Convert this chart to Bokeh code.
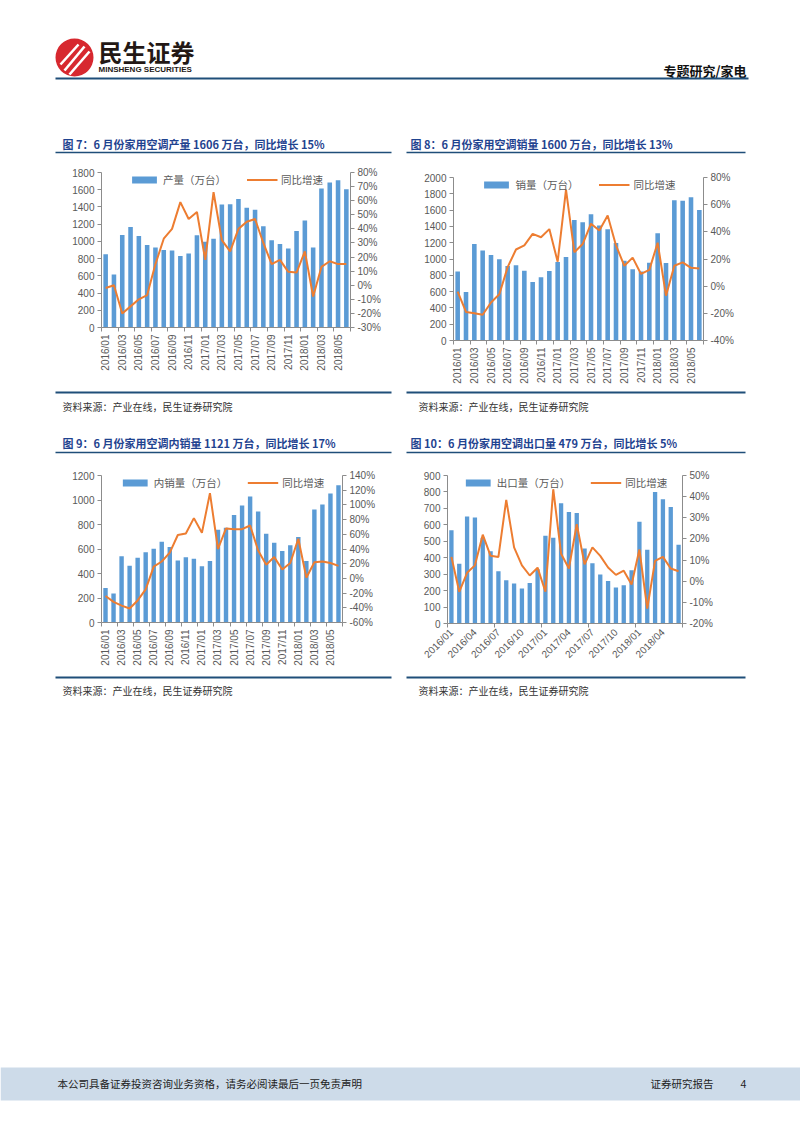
import math
from bokeh.plotting import figure
from bokeh.models import (ColumnDataSource, Range1d, LinearAxis, FixedTicker,
                          PrintfTickFormatter, Legend, LegendItem)
from bokeh.layouts import column, row
from bokeh.embed import file_html
from bokeh.resources import INLINE
from bokeh.core.properties import value

# ---------------- data ----------------
months = ["2016/01", "2016/02", "2016/03", "2016/04", "2016/05", "2016/06",
          "2016/07", "2016/08", "2016/09", "2016/10", "2016/11", "2016/12",
          "2017/01", "2017/02", "2017/03", "2017/04", "2017/05", "2017/06",
          "2017/07", "2017/08", "2017/09", "2017/10", "2017/11", "2017/12",
          "2018/01", "2018/02", "2018/03", "2018/04", "2018/05", "2018/06"]

prod_vol = [850, 615, 1075, 1168, 1062, 957, 930, 900, 895, 830, 860, 1070,
            996, 1030, 1428, 1432, 1491, 1390, 1367, 1177, 1013, 970, 918, 1120,
            1243, 930, 1614, 1684, 1710, 1606]
prod_yoy = [-2, 0, -20, -15, -10, -7, 15, 33, 40, 59, 47, 52,
            18, 66, 32, 24, 40, 45, 47, 30, 15, 18, 9.5, 9,
            24, -8, 13, 17, 15, 15]

sales_vol = [848, 596, 1184, 1105, 1050, 996, 915, 922, 857, 717, 775, 852,
             962, 1025, 1480, 1452, 1549, 1410, 1366, 1197, 980, 873, 848, 955,
             1316, 951, 1720, 1715, 1758, 1600]
sales_yoy = [-4, -19, -20, -21, -12, -6, 14, 27, 30, 38.5, 36, 42,
             18, 71, 25, 31, 46, 41, 52, 30, 15, 21, 9, 12,
             32, -7, 15, 17.5, 13.5, 13]

dom_vol = [282, 236, 541, 463, 529, 574, 602, 660, 616, 507, 532, 521,
           459, 503, 757, 773, 878, 956, 1028, 906, 724, 652, 583, 630,
           697, 503, 923, 963, 1053, 1121]
dom_yoy = [-24, -32, -37, -41, -30, -15, 16, 23, 35, 59, 61, 82,
           62, 116, 40, 68, 67, 67, 72, 38, 18.5, 29, 12, 21,
           54, 1, 22, 23, 21, 17]

exp_vol = [567, 364, 650, 644, 522, 440, 318, 263, 243, 213, 246, 330,
           534, 522, 731, 678, 672, 456, 366, 298, 259, 219, 233, 324,
           619, 449, 800, 755, 708, 479]
exp_yoy = [11.5, -5, 4, 7.5, 22, 12, 11.5, 38.5, 16, 7.5, 2.7, 6.4,
           -5, 43.5, 13, 6, 27, 8, 16, 12, 6.5, 3, 5, -1.6,
           15, -13, 9.6, 11.5, 6, 4.7]

# ---------------- style ----------------
CJK = "Noto Sans CJK SC"
LAT = "Liberation Sans"
BAR = "#5B9BD5"
LINE = "#ED7D31"
AX = "#8C8C8C"
TXT = "#595959"
NAVY = "#1F4E79"
TITLE = "#1F4390"


def deco(w, h):
    p = figure(width=w, height=h, x_range=Range1d(0, w), y_range=Range1d(h, 0),
               x_axis_type=None, y_axis_type=None, output_backend="svg",
               toolbar_location=None, min_border=0)
    p.grid.visible = False
    p.outline_line_color = None
    p.frame_align = False
    return p


def txt(p, x, y, s, size, color="#333333", font=CJK, style="normal", align="left"):
    p.text(x=[x], y=[y], text=[s], text_font=value(font), text_font_size=size,
           text_color=color, text_font_style=style, text_align=align,
           text_baseline="middle")


def chart(w, h, lb, rb, tb, bb, vols, yoy, ymax, ystep, pmin, pmax, pstep,
          lab_step, tick_step, orient, bar_label):
    n = len(months)
    src = ColumnDataSource(dict(x=list(range(n)), m=months, v=vols, g=yoy))
    p = figure(width=w, height=h, x_range=Range1d(-0.5, n - 0.5),
               y_range=Range1d(0, ymax), output_backend="svg",
               toolbar_location=None, min_border_left=lb, min_border_right=rb,
               min_border_top=tb, min_border_bottom=bb)
    p.frame_align = False
    p.extra_y_ranges = {"pct": Range1d(pmin, pmax)}
    p.grid.visible = False
    p.outline_line_color = None
    bars = p.vbar(x="x", top="v", width=0.55, source=src, fill_color=BAR,
                  line_color=None)
    ln = p.line(x="x", y="g", source=src, y_range_name="pct",
                line_color=LINE, line_width=2)

    xa = p.xaxis[0]
    ticks = list(range(0, n, lab_step))
    xa.ticker = FixedTicker(ticks=ticks,
                            minor_ticks=[k - 0.5 for k in range(0, n + 1, tick_step)])
    xa.major_label_overrides = {i: months[i] for i in ticks}
    xa.major_label_orientation = orient
    xa.major_tick_line_color = None
    xa.major_tick_out = 0
    xa.major_tick_in = 0
    xa.minor_tick_line_color = AX
    xa.minor_tick_out = 4
    xa.minor_tick_in = 0
    xa.major_label_standoff = 3

    ya = p.yaxis[0]
    ya.ticker = FixedTicker(ticks=list(range(0, ymax + 1, ystep)))

    ra = LinearAxis(y_range_name="pct",
                    ticker=FixedTicker(ticks=list(range(pmin, pmax + 1, pstep))),
                    formatter=PrintfTickFormatter(format="%d%%"))
    p.add_layout(ra, "right")

    for a in (xa, ya, ra):
        a.major_label_text_font = LAT
        a.major_label_text_font_size = "10px"
        a.major_label_text_color = TXT
        a.axis_line_color = AX
    for a in (ya, ra):
        a.major_tick_line_color = AX
        a.major_tick_out = 4
        a.major_tick_in = 0
        a.minor_tick_line_color = None
        a.major_label_standoff = 3

    leg = Legend(items=[LegendItem(label=bar_label, renderers=[bars]),
                        LegendItem(label="同比增速", renderers=[ln])],
                 orientation="horizontal", location="top_center")
    leg.background_fill_alpha = 0
    leg.border_line_color = None
    leg.padding = 0
    leg.margin = 0
    leg.spacing = 20
    leg.glyph_width = 31
    leg.glyph_height = 9
    leg.label_height = 12
    leg.label_standoff = 4
    leg.label_text_font = CJK
    leg.label_text_font_size = "10.5px"
    leg.label_text_color = TXT
    p.add_layout(leg)
    return p


# ---------------- header (page y 0..135) ----------------
header = deco(800, 135)
header.circle(x=[74], y=[57], radius=19, fill_color="#D7282F", line_color=None)
for (x0, y0, x1, y1) in [(60, 64, 78, 44), (64, 70, 84, 46), (69, 74, 89, 51)]:
    header.line(x=[x0, x1], y=[y0, y1], line_color="white", line_width=2.6)
txt(header, 98, 51, "民生证券", "24px", color="#231815", style="bold")
txt(header, 98, 69, "MINSHENG SECURITIES", "8px", color="#231815", font=LAT, style="bold")
txt(header, 746, 70, "专题研究/家电", "13px", color="#111111", style="bold", align="right")
header.line(x=[55, 748], y=[78, 78], line_color=NAVY, line_width=2)

# ---------------- titles row 1 (page y 135..160) ----------------
titles1 = deco(800, 25)
txt(titles1, 62, 8, "图 7：6 月份家用空调产量 1606 万台，同比增长 15%", "11px", color=TITLE, style="bold")
txt(titles1, 410, 8, "图 8：6 月份家用空调销量 1600 万台，同比增长 13%", "11px", color=TITLE, style="bold")
titles1.line(x=[55, 391], y=[17, 17], line_color=NAVY, line_width=1.5)
titles1.line(x=[406, 745], y=[17, 17], line_color=NAVY, line_width=1.5)

# ---------------- charts row 1 (page y 160..390) ----------------
c7 = chart(400, 230, 101, 50, 12, 63, prod_vol, prod_yoy, 1800, 200, -30, 80, 10,
           2, 2, math.pi / 2, "产量（万台）")
c8 = chart(400, 230, 53, 97, 17, 50, sales_vol, sales_yoy, 2000, 200, -40, 80, 20,
           2, 2, math.pi / 2, "销量（万台）")

# ---------------- middle strip (page y 390..460) ----------------
mid = deco(800, 70)
mid.line(x=[55, 391], y=[2, 2], line_color=NAVY, line_width=2)
mid.line(x=[406, 745], y=[2, 2], line_color=NAVY, line_width=2)
txt(mid, 62, 16, "资料来源：产业在线，民生证券研究院", "10px")
txt(mid, 418, 16, "资料来源：产业在线，民生证券研究院", "10px")
txt(mid, 62, 52, "图 9：6 月份家用空调内销量 1121 万台，同比增长 17%", "11px", color=TITLE, style="bold")
txt(mid, 410, 52, "图 10：6 月份家用空调出口量 479 万台，同比增长 5%", "11px", color=TITLE, style="bold")
mid.line(x=[55, 391], y=[62, 62], line_color=NAVY, line_width=1.5)
mid.line(x=[406, 745], y=[62, 62], line_color=NAVY, line_width=1.5)

# ---------------- charts row 2 (page y 460..675) ----------------
c9 = chart(400, 215, 101, 58, 15, 53, dom_vol, dom_yoy, 1200, 200, -60, 140, 20,
           2, 2, math.pi / 2, "内销量（万台）")
c10 = chart(400, 215, 47, 118, 15, 52, exp_vol, exp_yoy, 900, 100, -20, 50, 10,
            3, 6, math.pi / 4, "出口量（万台）")

# ---------------- bottom strip (page y 675..1132) ----------------
bottom = deco(800, 457)
bottom.line(x=[55, 391], y=[2, 2], line_color=NAVY, line_width=2)
bottom.line(x=[406, 745], y=[2, 2], line_color=NAVY, line_width=2)
txt(bottom, 62, 15, "资料来源：产业在线，民生证券研究院", "10px")
txt(bottom, 418, 15, "资料来源：产业在线，民生证券研究院", "10px")
bottom.quad(left=[0], right=[800], top=[392], bottom=[425], fill_color="#CDDBE9",
            line_color=None)
txt(bottom, 57, 408, "本公司具备证券投资咨询业务资格，请务必阅读最后一页免责声明", "10.5px", color="#222222")
txt(bottom, 650, 408, "证券研究报告", "10.5px", color="#222222")
txt(bottom, 740, 408, "4", "10.5px", color="#222222", font=LAT)

page = column(header, titles1, row(c7, c8, spacing=0), mid,
              row(c9, c10, spacing=0), bottom, spacing=0)

open("out.html", "w").write(file_html(page, INLINE))
